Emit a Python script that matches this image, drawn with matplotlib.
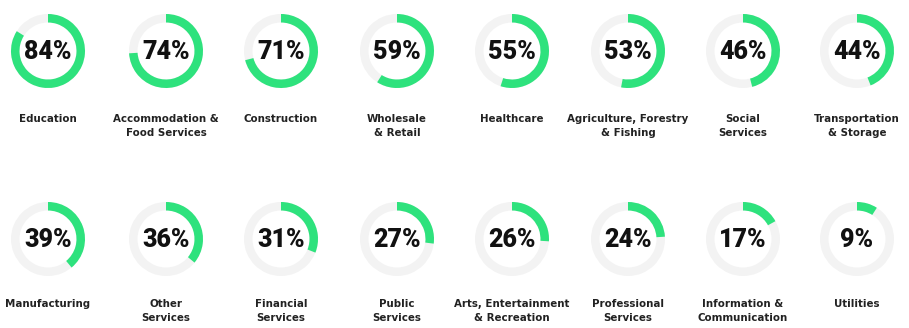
import matplotlib.pyplot as plt
from matplotlib.patches import Wedge

# share of each sector, in percent
sectors_top = ['Education', 'Accommodation &\nFood Services', 'Construction',
               'Wholesale\n& Retail', 'Healthcare', 'Agriculture, Forestry\n& Fishing',
               'Social\nServices', 'Transportation\n& Storage']
values_top = [84, 74, 71, 59, 55, 53, 46, 44]

sectors_bottom = ['Manufacturing', 'Other\nServices', 'Financial\nServices',
                  'Public\nServices', 'Arts, Entertainment\n& Recreation',
                  'Professional\nServices', 'Information &\nCommunication', 'Utilities']
values_bottom = [39, 36, 31, 27, 26, 24, 17, 9]

green = '#2ee27d'
track = '#f3f3f3'

fig = plt.figure(figsize=(9.09, 3.28), dpi=100)
ax = fig.add_axes([0, 0, 1, 1])
ax.set_xlim(0, 909)
ax.set_ylim(328, 0)
ax.set_aspect('equal')
ax.axis('off')

cols_x = [48, 166, 281, 397, 512, 628, 743, 857]
R = 37
W = 8.5


def draw_row(names, vals, cy, label_y):
    for cx, name, v in zip(cols_x, names, vals):
        # y axis is flipped, so angles run clockwise from the top
        ax.add_patch(Wedge((cx, cy), R, 0, 360, width=W, color=track, lw=0))
        ax.add_patch(Wedge((cx, cy), R, 270, 270 + 360 * v / 100, width=W,
                           color=green, lw=0))
        ax.text(cx, cy + 1, f'{v}%', ha='center', va='center', fontsize=18,
                fontweight='black', color='#111111', family=['Roboto', 'DejaVu Sans'])
        ax.text(cx, label_y, name, ha='center', va='top', fontsize=7.4,
                fontweight='bold', color='#222222', linespacing=1.45)


draw_row(sectors_top, values_top, 51, 114)
draw_row(sectors_bottom, values_bottom, 239, 299)

plt.savefig('out.png', dpi=100)
